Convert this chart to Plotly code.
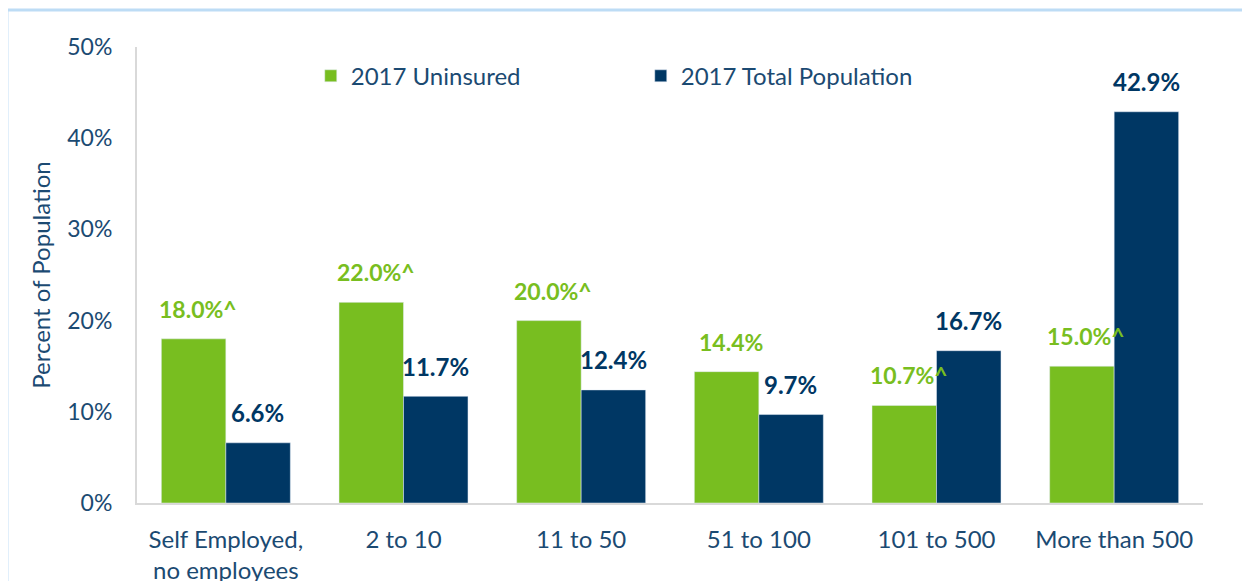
import plotly.graph_objects as go

categories = ["Self Employed,<br>no employees", "2 to 10", "11 to 50", "51 to 100", "101 to 500", "More than 500"]
uninsured = [18.0, 22.0, 20.0, 14.4, 10.7, 15.0]
uninsured_labels = ["18.0%^", "22.0%^", "20.0%^", "14.4%", "10.7%^", "15.0%^"]
total = [6.6, 11.7, 12.4, 9.7, 16.7, 42.9]
total_labels = ["6.6%", "11.7%", "12.4%", "9.7%", "16.7%", "42.9%"]
y_ticks = [0, 10, 20, 30, 40, 50]
y_ticklabels = ["0%", "10%", "20%", "30%", "40%", "50%"]

GREEN = "#78BE20"
NAVY = "#003764"
TEXT = "#1B4A72"
FONT = "Lato"

fig = go.Figure()
fig.add_trace(go.Bar(x=categories, y=uninsured, name="2017 Uninsured", marker_color=GREEN))
fig.add_trace(go.Bar(x=categories, y=total, name="2017 Total Population", marker_color=NAVY))

ann = []
for c, v, t in zip(categories, uninsured, uninsured_labels):
    ann.append(dict(x=c, y=v, text=t, xref="x", yref="y", showarrow=False, xshift=-28, yshift=30,
                    yanchor="middle", font=dict(family=FONT, size=23, color=GREEN, weight="bold")))
for c, v, t in zip(categories, total, total_labels):
    ann.append(dict(x=c, y=v, text=t, xref="x", yref="y", showarrow=False, xshift=32, yshift=30,
                    yanchor="middle", font=dict(family=FONT, size=24, color=NAVY, weight="bold")))

fig.update_layout(
    width=1250, height=581,
    margin=dict(l=129, r=55, t=39, b=86),
    paper_bgcolor="white", plot_bgcolor="white",
    barmode="group", bargap=0.274, bargroupgap=0,
    font=dict(family=FONT, size=23, color=TEXT),
    annotations=ann,
    showlegend=True,
    legend=dict(orientation="h", x=0.163, y=0.936, xanchor="left", yanchor="middle",
                font=dict(family=FONT, size=24, color=TEXT), entrywidth=285, entrywidthmode="pixels",
                bgcolor="rgba(0,0,0,0)"),
    shapes=[dict(type="rect", xref="paper", yref="paper", x0=-0.122, x1=1.2, y0=-0.5, y1=1.081,
                 line=dict(color="#BDDCF5", width=3), fillcolor="rgba(0,0,0,0)", layer="below")],
)
fig.update_xaxes(showline=True, linecolor="#D9D9D9", linewidth=2, ticks="", showgrid=False,
                 ticklabelstandoff=14, automargin=False,
                 tickfont=dict(family=FONT, size=24, color=TEXT))
fig.update_yaxes(range=[0, 50], tickvals=y_ticks, ticktext=y_ticklabels, showline=True,
                 linecolor="#D9D9D9", linewidth=2, showgrid=False, zeroline=False, ticks="",
                 ticklabelstandoff=18, automargin=False,
                 title=dict(text="Percent of Population", font=dict(family=FONT, size=24, color=TEXT), standoff=10),
                 tickfont=dict(family=FONT, size=23, color=TEXT))

fig.write_html("out.html")
